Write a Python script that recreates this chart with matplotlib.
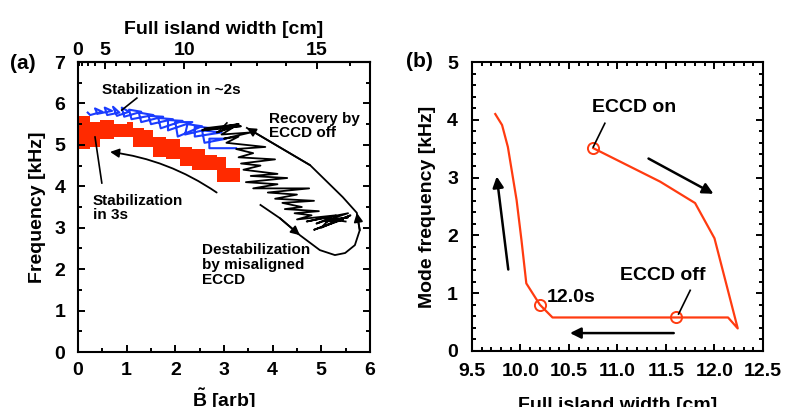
import numpy as np
import matplotlib
matplotlib.use('Agg')
import matplotlib.pyplot as plt
from matplotlib.ticker import MultipleLocator, FixedLocator

plt.rcParams['font.family'] = ['Liberation Sans', 'DejaVu Sans']
plt.rcParams['font.weight'] = 'bold'
plt.rcParams['mathtext.fontset'] = 'custom'
plt.rcParams['mathtext.rm'] = 'Liberation Sans:bold'
plt.rcParams['mathtext.bf'] = 'Liberation Sans:bold'

# ---- panel (a): frequency vs B-tilde ----
# red band (stabilization in 3s): step edges
red_x = [0.0, 0.25, 0.45, 0.75, 1.0, 1.13, 1.35, 1.55, 1.8, 2.1, 2.35, 2.6, 2.86, 3.05, 3.33]
red_top = [5.70, 5.55, 5.60, 5.50, 5.55, 5.40, 5.35, 5.20, 5.15, 4.95, 4.90, 4.75, 4.70, 4.45, 4.45]
red_bot = [4.90, 4.95, 5.15, 5.20, 5.20, 4.95, 4.95, 4.70, 4.65, 4.50, 4.40, 4.40, 4.10, 4.10, 4.10]

blue_b = [3.25, 2.70, 2.70, 3.05, 2.60, 2.55, 2.95, 2.40, 2.40, 2.75, 2.20, 2.25, 2.55,
          2.05, 2.00, 2.35, 1.85, 1.85, 2.15, 1.70, 1.65, 1.95, 1.50, 1.45, 1.75, 1.30,
          1.25, 1.55, 1.10, 1.05, 1.30, 0.95, 0.90, 1.05, 0.80, 0.72, 0.85, 0.60, 0.55,
          0.70, 0.40, 0.35, 0.50, 0.25, 0.20]
blue_f = [4.92, 4.92, 5.15, 5.15, 5.05, 5.35, 5.30, 5.20, 5.45, 5.40, 5.25, 5.50, 5.45,
          5.20, 5.55, 5.55, 5.35, 5.60, 5.58, 5.40, 5.65, 5.62, 5.50, 5.70, 5.68, 5.55,
          5.78, 5.72, 5.62, 5.85, 5.80, 5.68, 5.90, 5.80, 5.70, 5.92, 5.78, 5.72, 5.90,
          5.82, 5.75, 5.88, 5.80, 5.72, 5.78]

black_b = [2.60, 3.30, 2.90, 3.35, 2.55, 3.25, 2.85, 3.30, 2.95, 3.55, 3.00, 3.30, 3.05,
           3.85, 3.25, 3.60, 3.30, 4.05, 3.35, 3.75, 3.40, 4.10, 3.55, 4.30, 3.45, 4.10,
           3.60, 4.75, 3.90, 4.50, 4.05, 4.85, 4.20, 4.60, 4.25, 4.95, 4.45, 4.80, 4.50,
           5.30, 4.70, 5.55, 4.90, 5.20, 5.00, 5.60, 4.85, 5.45, 5.10, 5.55, 5.20, 5.50]
black_f = [5.40, 5.50, 5.42, 5.45, 5.35, 5.45, 5.30, 5.50, 5.25, 5.30, 5.15, 5.20, 5.05,
           4.95, 4.90, 4.80, 4.70, 4.65, 4.55, 4.50, 4.40, 4.30, 4.25, 4.20, 4.10, 4.05,
           3.95, 3.95, 3.85, 3.80, 3.70, 3.65, 3.60, 3.50, 3.45, 3.40, 3.35, 3.30, 3.20,
           3.30, 3.15, 3.35, 3.10, 3.25, 3.00, 3.30, 2.95, 3.20, 3.15, 3.25, 3.20, 3.15]

# loop arrow (destabilization -> recovery)
loop_b = [3.75, 4.15, 4.56, 4.97, 5.28, 5.49, 5.69, 5.79, 5.73, 5.44, 4.77, 3.47]
loop_f = [3.55, 3.23, 2.82, 2.46, 2.34, 2.39, 2.58, 2.94, 3.36, 3.74, 4.51, 5.41]

width_ticks = [0, 5, 10, 15]
width_scale = 6.77  # w = 6.77 * sqrt(B)

# ---- panel (b): mode frequency vs island width ----
w_b = [10.75, 11.44, 11.80, 12.00, 12.24, 12.14, 11.60, 10.33, 10.20, 10.06, 10.01,
       9.96, 9.87, 9.81, 9.74]
f_b = [3.51, 2.93, 2.56, 1.95, 0.39, 0.58, 0.58, 0.58, 0.80, 1.17, 1.92,
       2.61, 3.53, 3.91, 4.10]
marks_w = [10.75, 11.60, 10.20]
marks_f = [3.51, 0.58, 0.80]

fig = plt.figure(figsize=(7.86, 4.07), dpi=100)
ax1 = fig.add_axes([0.0992, 0.1351, 0.3715, 0.7125])
ax2 = fig.add_axes([0.6005, 0.1376, 0.3702, 0.7100])

ax1.fill_between(red_x, red_bot, red_top, step='post', color='#ff2a00', lw=0)
ax1.plot(blue_b, blue_f, color='#1a3cff', lw=1.5)
ax1.plot(black_b, black_f, color='black', lw=1.3)

ax1.plot(loop_b, loop_f, color='black', lw=1.3)
for i in [1, 7, 10]:
    ax1.annotate('', xy=(loop_b[i + 1], loop_f[i + 1]), xytext=(loop_b[i], loop_f[i]),
                 arrowprops=dict(arrowstyle='-|>', color='black', lw=1.3,
                                 mutation_scale=13, shrinkA=0, shrinkB=0))
ax1.annotate('', xy=(0.66, 4.83), xytext=(2.85, 3.85),
             arrowprops=dict(arrowstyle='-|>', color='black', lw=1.3, mutation_scale=13,
                             shrinkA=0, shrinkB=0, connectionstyle='arc3,rad=0.12'))

ax1.plot([1.21, 0.90], [6.13, 5.84], color='black', lw=1.2)
ax1.plot([3.06, 2.88], [5.53, 5.31], color='black', lw=1.2)
ax1.plot([0.49, 0.35], [4.08, 5.19], color='black', lw=1.2)

tkw = dict(fontsize=11, fontweight='bold', va='top', ha='left', linespacing=1.05)
ax1.text(0.49, 6.50, 'Stabilization in ~2s', **tkw)
ax1.text(3.92, 5.80, 'Recovery by\nECCD off', **tkw)
ax1.text(0.30, 3.82, 'Stabilization\nin 3s', **tkw)
ax1.text(2.55, 2.62, 'Destabilization\nby misaligned\nECCD', **tkw)

ax1.set_xlim(0, 6)
ax1.set_ylim(0, 7)
ax1.xaxis.set_major_locator(MultipleLocator(1))
ax1.xaxis.set_minor_locator(MultipleLocator(0.5))
ax1.yaxis.set_major_locator(MultipleLocator(1))
ax1.yaxis.set_minor_locator(MultipleLocator(0.5))
ax1.tick_params(which='both', direction='in', top=False, right=True, width=1.4, labelsize=14)
ax1.tick_params(which='major', length=5)
ax1.tick_params(which='minor', length=3)
ax1.tick_params(axis='x', pad=7)
ax1.tick_params(axis='y', pad=9)
ax1.set_xlabel(r'$\tilde{\mathbf{B}}$ [arb]', fontsize=14, fontweight='bold', labelpad=6)
ax1.set_ylabel('Frequency [kHz]', fontsize=14, fontweight='bold', labelpad=6)

sec = ax1.secondary_xaxis('top', functions=(
    lambda b: width_scale * np.sqrt(np.clip(b, 0, None)),
    lambda w: (np.asarray(w) / width_scale) ** 2))
sec.xaxis.set_major_locator(FixedLocator(width_ticks))
sec.xaxis.set_minor_locator(FixedLocator(range(0, 17)))
sec.tick_params(which='both', direction='in', width=1.4, labelsize=14, pad=2)
sec.tick_params(which='major', length=5)
sec.tick_params(which='minor', length=3)
sec.set_xlabel('Full island width [cm]', fontsize=14, fontweight='bold', labelpad=6)

# panel (b)
lc = '#ff3b10'
ax2.plot(w_b, f_b, color=lc, lw=1.6)
ax2.plot(marks_w, marks_f, 'o', mfc='none', mec=lc, mew=1.4, ms=8)

akw = dict(arrowstyle='-|>', color='black', lw=1.8, mutation_scale=16, shrinkA=0, shrinkB=0)
ax2.annotate('', xy=(11.99, 2.72), xytext=(11.32, 3.33), arrowprops=akw)
ax2.annotate('', xy=(10.51, 0.31), xytext=(11.58, 0.31), arrowprops=akw)
ax2.annotate('', xy=(9.755, 3.02), xytext=(9.874, 1.41), arrowprops=akw)

ax2.plot([10.87, 10.75], [3.94, 3.53], color='black', lw=1.2)
ax2.plot([11.75, 11.63], [1.05, 0.64], color='black', lw=1.2)
ax2.text(11.17, 4.22, 'ECCD on', fontsize=14, fontweight='bold', ha='center', va='center')
ax2.text(11.47, 1.30, 'ECCD off', fontsize=14, fontweight='bold', ha='center', va='center')
ax2.text(10.27, 0.93, '12.0s', fontsize=14, fontweight='bold', ha='left', va='center')

ax2.set_xlim(9.5, 12.5)
ax2.set_ylim(0, 5)
ax2.xaxis.set_major_locator(MultipleLocator(0.5))
ax2.xaxis.set_minor_locator(MultipleLocator(0.1))
ax2.yaxis.set_major_locator(MultipleLocator(1))
ax2.yaxis.set_minor_locator(MultipleLocator(0.2))
ax2.tick_params(which='both', direction='in', top=True, right=True, width=1.4, labelsize=14)
ax2.tick_params(which='major', length=5)
ax2.tick_params(which='minor', length=3)
ax2.tick_params(axis='x', pad=9)
ax2.tick_params(axis='y', pad=10)
ax2.set_xlabel('Full island width [cm]', fontsize=14, fontweight='bold', labelpad=12)
ax2.set_ylabel('Mode frequency [kHz]', fontsize=14, fontweight='bold', labelpad=8)

for ax in (ax1, ax2):
    for s in ax.spines.values():
        s.set_linewidth(1.5)
for s in sec.spines.values():
    s.set_linewidth(1.5)

fig.text(0.029, 0.845, '(a)', fontsize=15, fontweight='bold', ha='center', va='center')
fig.text(0.533, 0.848, '(b)', fontsize=15, fontweight='bold', ha='center', va='center')

fig.savefig('out.png', dpi=100)
